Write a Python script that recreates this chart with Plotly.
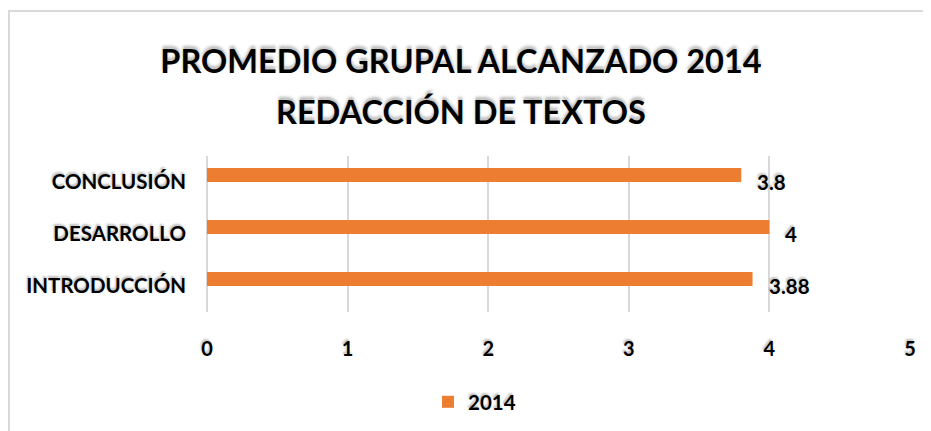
import plotly.graph_objects as go

categories = ["INTRODUCCIÓN", "DESARROLLO", "CONCLUSIÓN"]
values_2014 = [3.88, 4, 3.8]
value_labels = ["3.88", "4", "3.8"]
series_name = "2014"
title_lines = ["PROMEDIO GRUPAL ALCANZADO 2014", "REDACCIÓN DE TEXTOS"]
x_ticks = [0, 1, 2, 3, 4, 5]

W, H = 931, 431
L, R, T, B = 199, 29, 148, 127
FONT = "Lato"
ORANGE = "#ED7D31"
GRID = "#D9D9D9"
SHADOW = "0px -3px 3px rgba(0,0,0,0.28)"
SHADOW_S = "-1px -2px 2px rgba(0,0,0,0.25)"

pw = W - L - R
ph = H - T - B

def px(fx):
    return (fx - L) / pw

def py(fy):
    return (H - B - fy) / ph

fig = go.Figure()
fig.add_trace(go.Bar(
    y=categories, x=values_2014, orientation="h", name=series_name,
    marker=dict(color=ORANGE, line=dict(width=0)),
    width=0.27, offset=0, showlegend=True,
))

for c, v, t in zip(categories, values_2014, value_labels):
    fig.add_annotation(x=v, y=c, text=f"<b>{t}</b>", showarrow=False,
                       xanchor="left", yanchor="middle", xshift=15, yshift=0, borderpad=0,
                       font=dict(family=FONT, size=20.5, color="#000000", shadow=SHADOW_S))

# second title line
fig.add_annotation(xref="paper", yref="paper", x=px(453), y=py(104),
                   text="<b>" + title_lines[1] + "</b>", showarrow=False,
                   xanchor="center", yanchor="middle",
                   font=dict(family=FONT, size=32.5, color="#000000", shadow=SHADOW))

# chart border
fig.add_shape(type="rect", xref="paper", yref="paper",
              x0=px(1), x1=px(W + 10), y0=py(H + 10), y1=py(3),
              line=dict(color=GRID, width=2), layer="below")

fig.update_layout(
    width=W, height=H,
    margin=dict(l=L, r=R, t=T, b=B, autoexpand=False),
    paper_bgcolor="white", plot_bgcolor="white",
    title=dict(text="<b>" + title_lines[0] + "</b>",
               x=453 / W, xanchor="center", xref="container",
               y=1 - 54 / H, yanchor="middle", yref="container",
               font=dict(family=FONT, size=32.5, color="#000000", shadow=SHADOW)),
    xaxis=dict(range=[0, 5], tickvals=x_ticks, showgrid=True, gridcolor=GRID, gridwidth=2,
               zeroline=True, zerolinecolor=GRID, zerolinewidth=2, showline=False,
               ticklabelstandoff=23, fixedrange=True,
               tickfont=dict(family=FONT, size=20, color="#000000", weight="bold", shadow=SHADOW_S)),
    yaxis=dict(range=[-0.5, 2.5], showgrid=False, showline=False, zeroline=False,
               ticklabelstandoff=20, fixedrange=True,
               tickfont=dict(family=FONT, size=20.5, color="#000000", weight="bold", shadow=SHADOW_S)),
    legend=dict(orientation="h", x=px(420), xanchor="left",
                y=py(394), yanchor="middle",
                font=dict(family=FONT, size=20.5, color="#000000", weight="bold", shadow=SHADOW_S)),
)

fig.write_html("out.html")
